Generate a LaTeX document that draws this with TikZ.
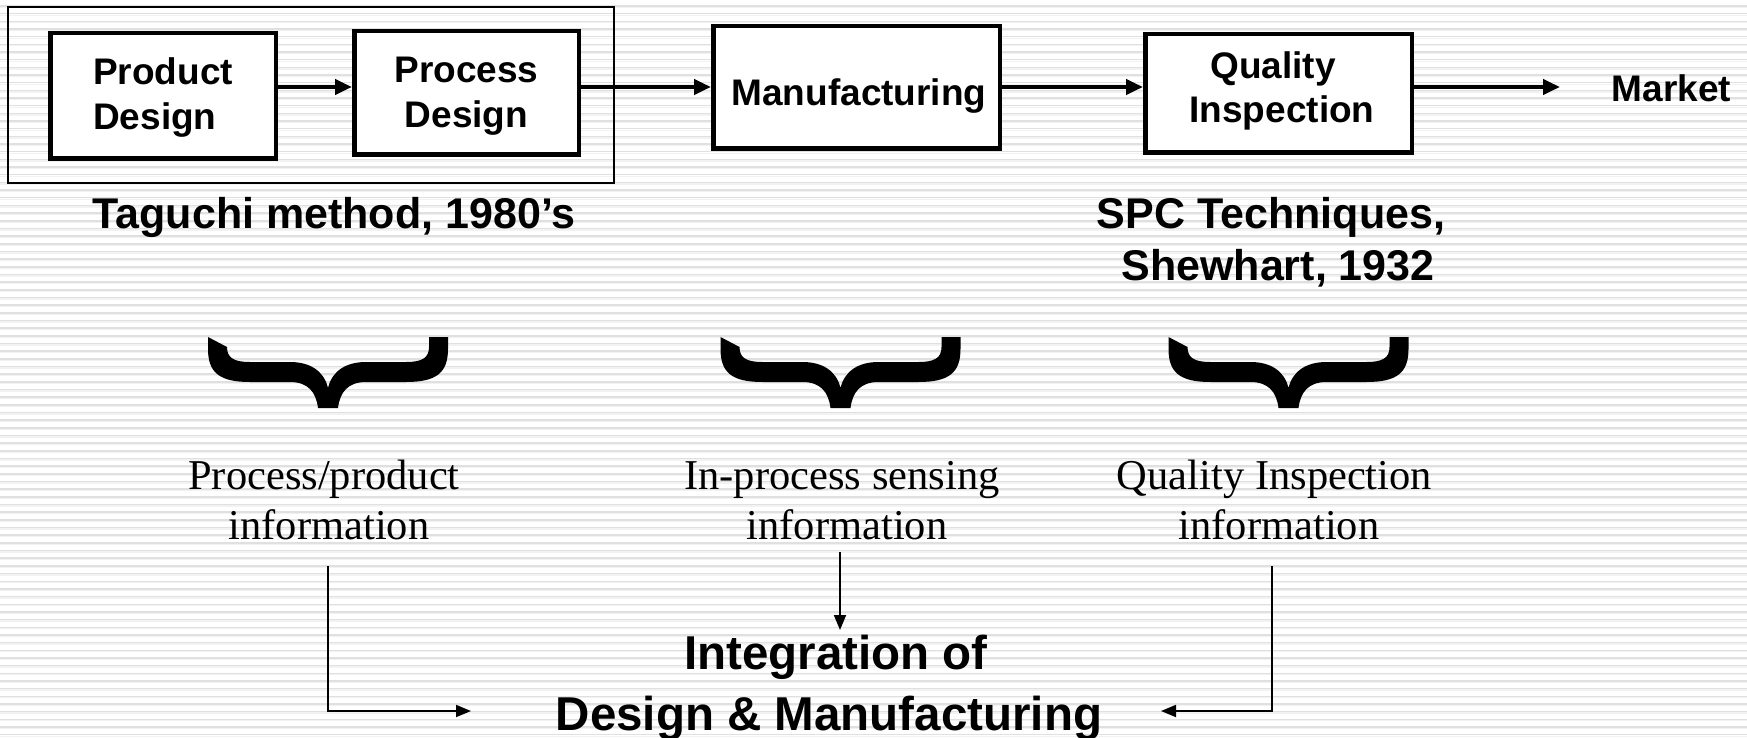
\documentclass[tikz,border=0pt]{standalone}
\usepackage{fontspec}
\setmainfont{Liberation Serif}
\setsansfont{Liberation Sans}
\usetikzlibrary{arrows.meta}

\tikzset{
  stripe/.style={line width=1.5pt, draw=black!12},
  stripelite/.style={line width=1.3pt, draw=black!5},
  stage/.style={draw, line width=4.5pt, fill=white, inner sep=0pt},
  group/.style={draw, line width=1.8pt, inner sep=0pt},
  stagetext/.style={inner sep=0pt, anchor=base,
    font=\sffamily\bfseries\fontsize{37}{45}\selectfont},
  caption/.style={inner sep=0pt, anchor=base,
    font=\sffamily\bfseries\fontsize{43}{50}\selectfont},
  infotext/.style={inner sep=0pt, anchor=base,
    font=\rmfamily\fontsize{42.5}{50}\selectfont},
  goaltext/.style={inner sep=0pt, anchor=base,
    font=\sffamily\bfseries\fontsize{47.5}{58}\selectfont},
  flow/.style={line width=4.5pt, -{Triangle[length=17pt,width=15pt]}},
  feed/.style={line width=1.8pt, -{Triangle[length=15pt,width=12pt]}},
  bigbrace/.pic={
    \fill (0,0) -- (0,12) .. controls (0,36) and (12,45) .. (42,45)
      -- (82,45) .. controls (100,45) and (108,55) .. (110,71)
      -- (130,71) .. controls (132,55) and (140,45) .. (158,45)
      -- (198,45) .. controls (228,45) and (240,36) .. (240,12)
      -- (240,0) -- (221,0) -- (221,10) .. controls (221,21) and (214,25) .. (198,25)
      -- (158,25) .. controls (138,25) and (124,34) .. (120,51)
      .. controls (116,34) and (102,25) .. (82,25)
      -- (42,25) .. controls (26,25) and (19,21) .. (19,10) -- cycle;
  }
}

\begin{document}
\begin{tikzpicture}[x=1pt, y=-1pt]
\useasboundingbox (0,0) rectangle (1747,738);
\fill[white] (0,0) rectangle (1747,738);

% ruled background
\foreach \k in {0,...,95} {
  \draw[stripe] (0,{6+7.67*\k}) -- (1747,{6+7.67*\k});
  \draw[stripelite] (0,{7.5+7.67*\k}) -- (1747,{7.5+7.67*\k});
}

% design stages grouped by a thin frame
\node[group, minimum width=606, minimum height=176] (grp) at (311,95) {};

% process stages
\node[stage, minimum width=225.5, minimum height=125.5] (pd)  at (163,96) {};
\node[stage, minimum width=224.5, minimum height=123.5] (prd) at (466.5,93) {};
\node[stage, minimum width=286.5, minimum height=122.5] (mfg) at (856.5,87.5) {};
\node[stage, minimum width=266.5, minimum height=118.5] (qi)  at (1278.5,93.5) {};

\node[stagetext, anchor=base west] (pdt1) at (93,85)  {Product};
\node[stagetext, anchor=base west] (pdt2) at (93,130) {Design};
\node[stagetext] (prdt1) at (466.5,83)  {Process};
\node[stagetext] (prdt2) at (466.5,128) {Design};
\node[stagetext] (mfgt)  at (859,106)   {Manufacturing};
\node[stagetext] (qit1)  at (1273,79)   {Quality};
\node[stagetext] (qit2)  at (1282,123)  {Inspection};
\node[stagetext] (mkt)   at (1671.5,102) {Market};

% main flow
\coordinate (row) at (0,87);
\coordinate (mkttip) at (1560,87);
\draw[flow] (pd.east |- row) -- (prd.west |- row);
\draw[flow] (prd.east |- row) -- (mfg.west |- row);
\draw[flow] (mfg.east |- row) -- (qi.west |- row);
\draw[flow] (qi.east |- row) -- (mkttip);

% method captions
\node[caption] (tag)  at (334,229)  {Taguchi method, 1980’s};
\node[caption] (spc1) at (1271,229) {SPC Techniques,};
\node[caption] (spc2) at (1278,280) {Shewhart, 1932};

% braces
\pic (br1) at (208,337) {bigbrace};
\pic (br2) at (720.5,337) {bigbrace};
\pic (br3) at (1168.5,337) {bigbrace};

% information sources
\node[infotext] (pp1) at (324,489) {Process/product};
\node[infotext] (pp2) at (329,539) {information};
\node[infotext] (ip1) at (842,489) {In-process sensing};
\node[infotext] (ip2) at (847,539) {information};
\node[infotext] (qq1) at (1274.5,489) {Quality Inspection};
\node[infotext] (qq2) at (1279,539) {information};

% integration goal
\node[goaltext] (goal1) at (836,669) {Integration of};
\node[goaltext] (goal2) at (829,730) {Design \& Manufacturing};

% feeds into the goal
\coordinate (f1s) at (328,566);
\coordinate (f1e) at (471,711);
\coordinate (f2s) at (840,552);
\coordinate (f2e) at (840,630);
\coordinate (f3s) at (1272,566);
\coordinate (f3e) at (1161,711);
\draw[feed] (f1s) |- (f1e);
\draw[feed] (f2s) -- (f2e);
\draw[feed] (f3s) |- (f3e);
\end{tikzpicture}
\end{document}
